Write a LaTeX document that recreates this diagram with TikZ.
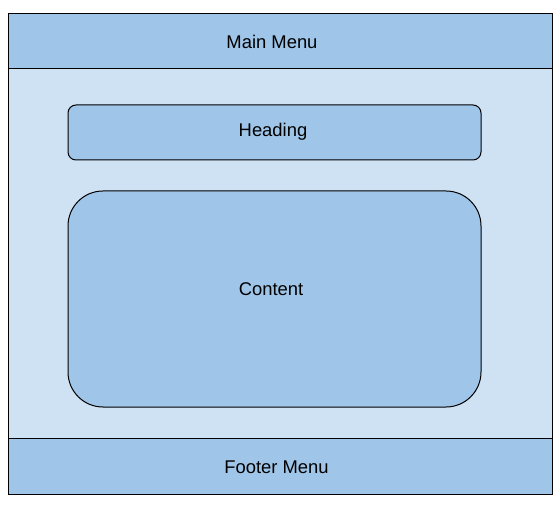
\documentclass[tikz,border=0pt]{standalone}
\usepackage{fontspec}
\setmainfont{Liberation Sans}
\definecolor{darkfill}{HTML}{9FC5E8}
\definecolor{lightfill}{HTML}{CFE2F3}
\begin{document}
\begin{tikzpicture}[x=1pt,y=-1pt,
  band/.style={draw=black,line width=1pt,fill=darkfill,minimum width=544pt,minimum height=55pt,inner sep=0pt},
  box/.style={draw=black,line width=1pt,fill=darkfill,minimum width=413pt,inner sep=0pt},
  lbl/.style={font=\fontsize{18.4}{22}\selectfont,inner sep=0pt,anchor=base}]
\useasboundingbox (0,0) rectangle (560,505);
\node[draw=black,line width=1pt,fill=lightfill,minimum width=544pt,minimum height=480pt,inner sep=0pt] (page) at (280,254) {};
\node[band] (main) at (280,41.5) {};
\node[band,minimum height=56pt] (footer) at (280,466) {};
\node[box,minimum height=55pt,rounded corners=8pt] (heading) at (274.5,132.5) {};
\node[box,minimum height=216pt,rounded corners=35pt] (content) at (274.5,299) {};
\node[lbl] (mainT) at (272,48.3) {Main Menu};
\node[lbl] (headingT) at (273,136.7) {Heading};
\node[lbl] (contentT) at (271,295.7) {Content};
\node[lbl] (footerT) at (276.5,473) {Footer Menu};
\end{tikzpicture}
\end{document}
